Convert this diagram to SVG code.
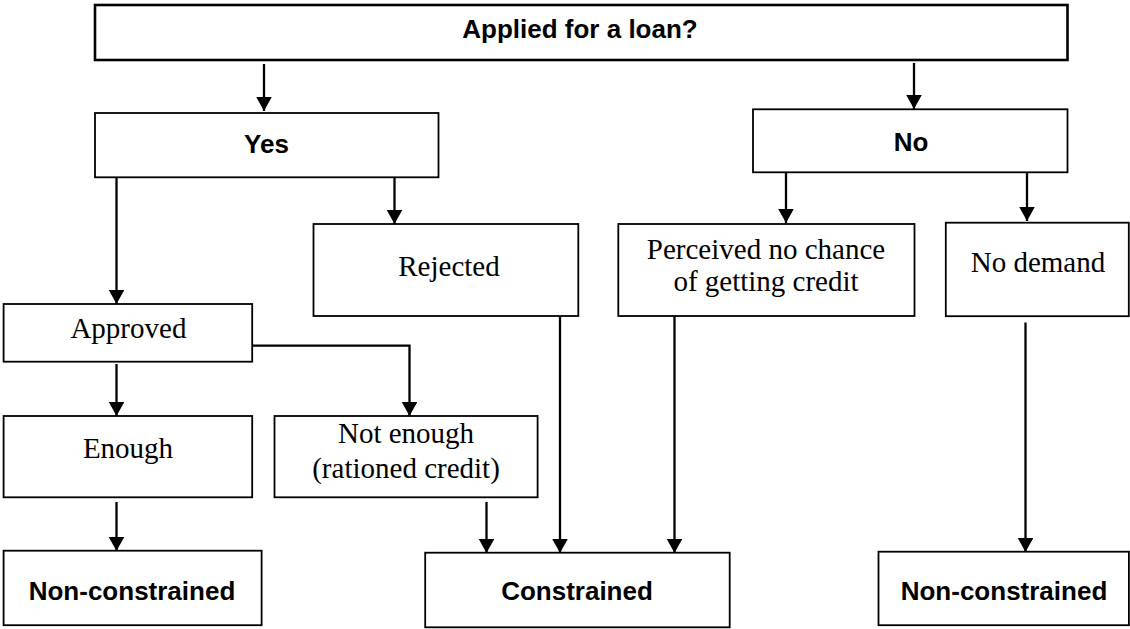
<svg xmlns="http://www.w3.org/2000/svg" width="1130" height="629" viewBox="0 0 1130 629">
<style>
.box{fill:#fff;stroke:#000;stroke-width:1.8}
.top{fill:#fff;stroke:#000;stroke-width:2.6}
.b{font-family:"Liberation Sans",Arial,sans-serif;font-weight:bold;font-size:26px;text-anchor:middle;fill:#000}
.s{font-family:"Liberation Serif","Times New Roman",serif;font-size:29px;text-anchor:middle;fill:#000}
.c{fill:none;stroke:#000;stroke-width:2.3}
</style>
<defs>
<marker id="ah" markerUnits="userSpaceOnUse" markerWidth="15" markerHeight="16" refX="14" refY="7.75" orient="auto">
<path d="M0,0 L14,7.75 L0,15.5 z" fill="#000"/>
</marker>
</defs>
<rect width="1130" height="629" fill="#fff"/>
<g id="connectors">
<path class="c" d="M264,64 V111" marker-end="url(#ah)"/>
<path class="c" d="M914,63 V109" marker-end="url(#ah)"/>
<path class="c" d="M116.5,177 V304" marker-end="url(#ah)"/>
<path class="c" d="M394.5,177 V224" marker-end="url(#ah)"/>
<path class="c" d="M786,172 V223" marker-end="url(#ah)"/>
<path class="c" d="M1027,172 V221" marker-end="url(#ah)"/>
<path class="c" d="M252,345.7 H409.5 V416" marker-end="url(#ah)"/>
<path class="c" d="M116.5,364 V416" marker-end="url(#ah)"/>
<path class="c" d="M116.5,502 V551" marker-end="url(#ah)"/>
<path class="c" d="M486.5,502 V553" marker-end="url(#ah)"/>
<path class="c" d="M560,316 V553" marker-end="url(#ah)"/>
<path class="c" d="M674.5,316 V553" marker-end="url(#ah)"/>
<path class="c" d="M1025.5,322.5 V552" marker-end="url(#ah)"/>
</g>
<g id="applied">
<rect class="top" x="95" y="5" width="972.5" height="55"/>
<text class="b" x="580" y="38">Applied for a loan?</text>
</g>
<g id="yes">
<rect class="box" x="95" y="113" width="343.5" height="64.3"/>
<text class="b" x="266.5" y="153.3">Yes</text>
</g>
<g id="no">
<rect class="box" x="753" y="109.3" width="314.5" height="63"/>
<text class="b" x="911" y="150.5">No</text>
</g>
<g id="rejected">
<rect class="box" x="313.5" y="224" width="264.8" height="92"/>
<text class="s" x="449" y="276">Rejected</text>
</g>
<g id="perceived">
<rect class="box" x="618.3" y="224" width="296.2" height="92"/>
<text class="s" x="766" y="258.5">Perceived no chance</text>
<text class="s" x="766" y="290.5">of getting credit</text>
</g>
<g id="nodemand">
<rect class="box" x="945.8" y="222.7" width="183" height="93.5"/>
<text class="s" x="1038" y="271.7">No demand</text>
</g>
<g id="approved">
<rect class="box" x="3.6" y="304" width="248.6" height="57.7"/>
<text class="s" x="128.4" y="338.3">Approved</text>
</g>
<g id="enough">
<rect class="box" x="3.6" y="416" width="248.6" height="81.3"/>
<text class="s" x="128" y="458.3">Enough</text>
</g>
<g id="notenough">
<rect class="box" x="274.5" y="416" width="263.1" height="81.3"/>
<text class="s" x="406" y="443.3">Not enough</text>
<text class="s" x="406" y="477.5">(rationed credit)</text>
</g>
<g id="nonconstrained-left">
<rect class="box" x="3.6" y="550.7" width="258" height="74.5"/>
<text class="b" x="132" y="600">Non-constrained</text>
</g>
<g id="constrained">
<rect class="box" x="425.2" y="552.7" width="304.5" height="74.6"/>
<text class="b" x="577" y="600">Constrained</text>
</g>
<g id="nonconstrained-right">
<rect class="box" x="878.5" y="551.7" width="250.4" height="73.5"/>
<text class="b" x="1004" y="600">Non-constrained</text>
</g>
</svg>
